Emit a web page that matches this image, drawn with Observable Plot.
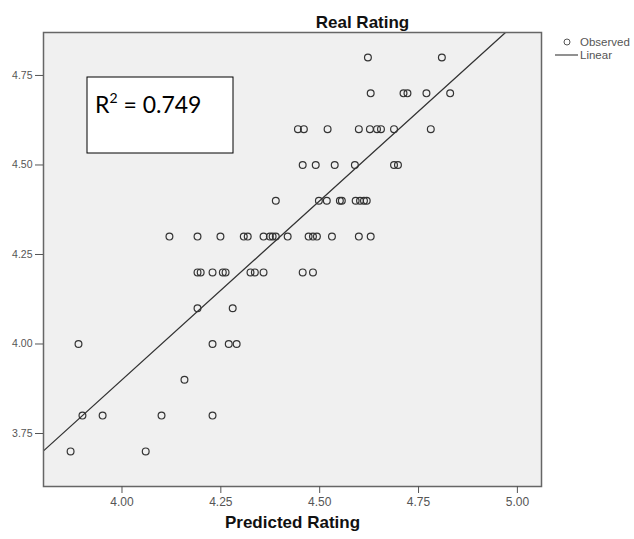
<!DOCTYPE html>
<html>
<head>
<meta charset="utf-8">
<script src="https://cdn.jsdelivr.net/npm/d3@7"></script>
<script src="https://cdn.jsdelivr.net/npm/@observablehq/plot@0.6"></script>
<style>
  html, body { margin: 0; padding: 0; background: #fff; }
  #chart svg { display: block; }
</style>
</head>
<body>
<div id="chart"></div>
<script>
// Observed points, grouped by real rating (y); predicted rating values (x) per row
const realLevels = [4.8, 4.7, 4.6, 4.5, 4.4, 4.3, 4.2, 4.1, 4.0, 3.9, 3.8, 3.7];
const predictedByLevel = [
  [4.622, 4.809],
  [4.629, 4.712, 4.722, 4.770, 4.830],
  [4.445, 4.460, 4.520, 4.599, 4.627, 4.645, 4.655, 4.688, 4.781],
  [4.457, 4.490, 4.538, 4.589, 4.688, 4.698],
  [4.389, 4.498, 4.518, 4.551, 4.556, 4.591, 4.602, 4.612, 4.619],
  [4.120, 4.191, 4.249, 4.308, 4.318, 4.358, 4.374, 4.381, 4.389, 4.419, 4.472, 4.483, 4.493, 4.531, 4.599, 4.629],
  [4.191, 4.199, 4.229, 4.255, 4.262, 4.325, 4.336, 4.358, 4.457, 4.483],
  [4.191, 4.280],
  [3.890, 4.229, 4.270, 4.290],
  [4.158],
  [3.900, 3.951, 4.100, 4.229],
  [3.870, 4.060]
];
// Linear fit
const fitIntercept = -0.10;
const fitSlope = 1.0;
const rSquared = "0.749";

const xTicks = [4.00, 4.25, 4.50, 4.75, 5.00];
const yTicks = [3.75, 4.00, 4.25, 4.50, 4.75];
const xDomain = [3.8015, 5.061];
const yDomain = [3.602, 4.870];

const points = [];
realLevels.forEach((r, i) => predictedByLevel[i].forEach(p => points.push({predicted: p, real: r})));
const fitLine = xDomain.map(x => ({x, y: fitIntercept + fitSlope * x}));

const W = 634, H = 539;
const mL = 43, mR = 93, mT = 32, mB = 53;

const plot = Plot.plot({
  width: W,
  height: H,
  marginLeft: mL,
  marginRight: mR,
  marginTop: mT,
  marginBottom: mB,
  style: {fontFamily: "'Liberation Sans', Arial, sans-serif", background: "#fff"},
  x: {domain: xDomain},
  y: {domain: yDomain},
  marks: [
    Plot.frame({fill: "#f0f0f0", stroke: "none"}),
    Plot.dot(points, {x: "predicted", y: "real", r: 3.4, stroke: "#333", strokeWidth: 1.2, fill: "none"}),
    Plot.line(fitLine, {x: "x", y: "y", stroke: "#333", strokeWidth: 1.3, clip: true}),
    Plot.frame({stroke: "#666", strokeWidth: 1.5}),
    Plot.axisX({ticks: xTicks, tickFormat: d3.format(".2f"), tickSize: 7, tickPadding: 4, fontSize: 12, color: "#555", label: null}),
    Plot.axisY({ticks: yTicks, tickFormat: d3.format(".2f"), tickSize: 8, tickPadding: 3, fontSize: 10.5, color: "#555", label: null}),
    Plot.text(["Real Rating"], {frameAnchor: "top", dx: 70, dy: -17, fontSize: 17, fontWeight: "bold", fill: "#111"}),
    Plot.text(["Predicted Rating"], {frameAnchor: "bottom", dy: 41, fontSize: 17, fontWeight: "bold", fill: "#111"})
  ]
});
document.getElementById("chart").appendChild(plot);

// Legend and R² annotation
const svg = d3.select(plot);
const leg = svg.append("g").attr("font-family", "'Liberation Sans', Arial, sans-serif")
  .attr("font-size", 11.5).attr("fill", "#555").attr("text-anchor", "start");
leg.append("circle").attr("cx", 567).attr("cy", 42).attr("r", 3).attr("fill", "none").attr("stroke", "#555");
leg.append("text").attr("x", 580).attr("y", 46).text("Observed");
leg.append("line").attr("x1", 555).attr("x2", 578).attr("y1", 55).attr("y2", 55).attr("stroke", "#555").attr("stroke-width", 1.3);
leg.append("text").attr("x", 580).attr("y", 59).text("Linear");

const box = svg.append("g");
box.append("rect").attr("x", 87).attr("y", 77).attr("width", 146).attr("height", 76)
  .attr("fill", "#fff").attr("stroke", "#000").attr("stroke-width", 1);
const t = box.append("text").attr("x", 95).attr("y", 113).attr("text-anchor", "start")
  .attr("font-family", "Lato, 'Open Sans', sans-serif").attr("font-size", 23).attr("fill", "#000");
t.append("tspan").text("R");
t.append("tspan").attr("font-size", 14).attr("dy", -10).text("2");
t.append("tspan").attr("dy", 10).text(" = " + rSquared);
</script>
</body>
</html>
